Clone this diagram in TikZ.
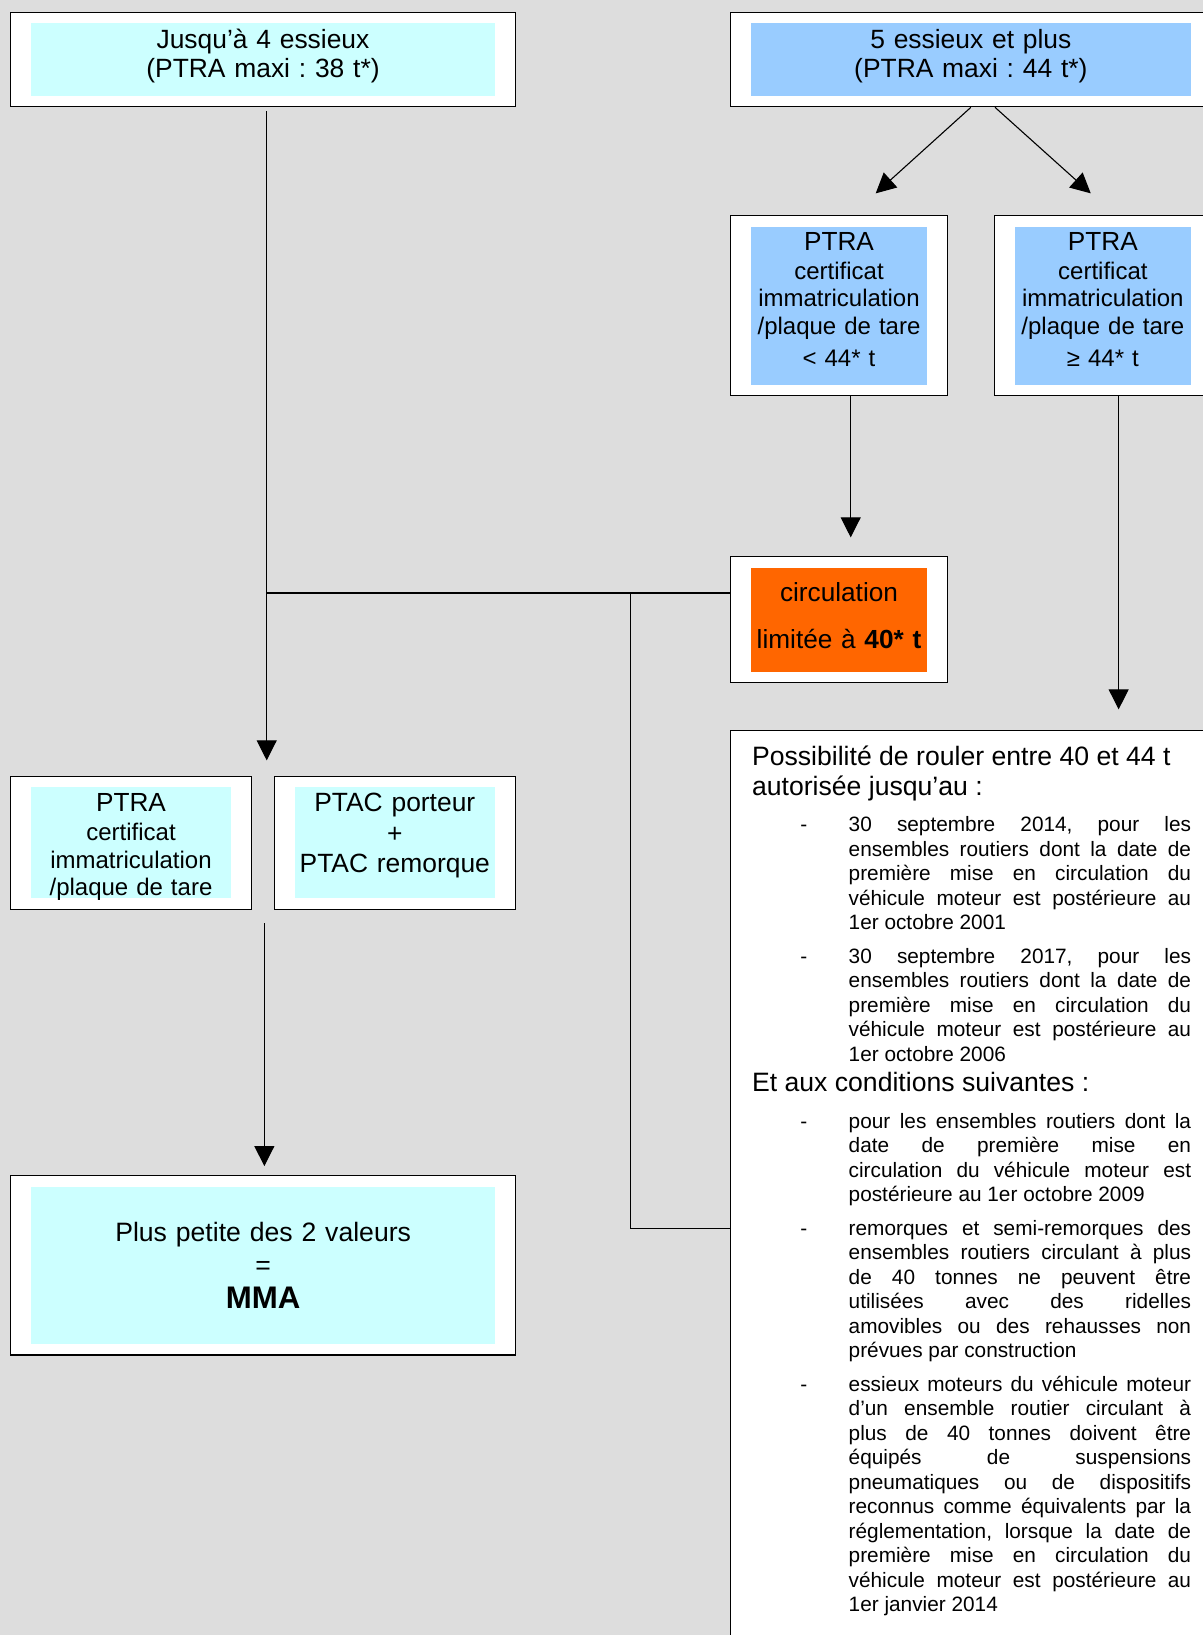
\documentclass[tikz,border=0pt]{standalone}
\usepackage{fontspec}
\setmainfont{Liberation Sans}
\usetikzlibrary{positioning, fit, arrows.meta}

\definecolor{bg_gray}{RGB}{221,221,221}
\definecolor{light_cyan}{RGB}{204,255,255}
\definecolor{light_blue}{RGB}{153,204,255}
\definecolor{warn_orange}{RGB}{255,102,0}

\frenchspacing
\tolerance=9999
\hbadness=10000
\hyphenpenalty=10000
\exhyphenpenalty=10000

% one dashed item of the conditions box
\newcommand{\tiret}[1]{\par{\leftskip=48.3pt\noindent\llap{\makebox[24.15pt][l]{-}}#1\par}}

\tikzset{
    outer_box/.style={rectangle, draw=black, fill=white, line width=0.65pt, inner sep=0pt},
    inner_box/.style={rectangle, inner sep=0pt},
    box_text/.style={anchor=base, inner sep=0pt, align=center},
    cond_text/.style={anchor=base west, inner sep=0pt, align=justify, text width=219.5pt},
    arrow/.style={line width=0.55pt, -{Triangle[width=10pt, length=10pt]}},
    line/.style={line width=0.55pt},
}

\begin{document}
\begin{tikzpicture}[x=0.5pt, y=-0.5pt]
    \useasboundingbox (0,0) rectangle (1203,1635);
    \fill[bg_gray] (0,0) rectangle (1203,1635);

    %%%%%%%%%%%%%%%%%%%%%
    % JUSQU'A 4 ESSIEUX %
    %%%%%%%%%%%%%%%%%%%%%
    \node (essieux4) [outer_box, fit={(10.5,12.3) (515.3,106.7)}] {};
    \node (essieux4_fill) [inner_box, fill=light_cyan, fit={(31.3,22.7) (494.8,95.7)}] {};
    \node (essieux4_text) [box_text, text width=231pt, font=\fontsize{13.2}{14.5}\selectfont] at (263,48.3)
        {Jusqu’à 4 essieux\\(PTRA maxi : 38 t*)};

    %%%%%%%%%%%%%%%%%%%%%
    % 5 ESSIEUX ET PLUS %
    %%%%%%%%%%%%%%%%%%%%%
    \node (essieux5) [outer_box, fit={(730.7,12.3) (1211,106.7)}] {};
    \node (essieux5_fill) [inner_box, fill=light_blue, fit={(751,23.3) (1190.7,95.7)}] {};
    \node (essieux5_text) [box_text, text width=219pt, font=\fontsize{13.2}{14.5}\selectfont] at (970.85,48)
        {5 essieux et plus\\(PTRA maxi : 44 t*)};

    \node (ptraless) [outer_box, fit={(730.7,215.7) (947.3,395.3)}] {};
    \node (ptraless_fill) [inner_box, fill=light_blue, fit={(751,227) (927,384.7)}] {};
    \node (ptraless_text) [box_text, text width=88pt, font=\fontsize{12}{13.8}\selectfont] at (839,250.7)
        {{\fontsize{13.1}{15}\selectfont PTRA}\\[0.35pt]certificat\\immatriculation\\/plaque de tare\\[2.55pt]< 44* t};

    \node (ptramore) [outer_box, fit={(994.3,215.7) (1211,395.3)}] {};
    \node (ptramore_fill) [inner_box, fill=light_blue, fit={(1015,227) (1190.7,384.7)}] {};
    \node (ptramore_text) [box_text, text width=88pt, font=\fontsize{12}{13.8}\selectfont] at (1102.85,250.7)
        {{\fontsize{13.1}{15}\selectfont PTRA}\\[0.35pt]certificat\\immatriculation\\/plaque de tare\\[2.55pt]≥ 44* t};

    \node (circ) [outer_box, fit={(730.7,556.7) (947.3,682.7)}] {};
    \node (circ_fill) [inner_box, fill=warn_orange, fit={(751,568.3) (927,671.7)}] {};
    \node (circ_text) [box_text, text width=88pt, font=\fontsize{13.1}{15}\selectfont] at (839,601.7)
        {circulation\\[8.3pt]limitée à \textbf{40* t}};

    %%%%%%%%%%%%%%
    % CONDITIONS %
    %%%%%%%%%%%%%%
    \node (conditions) [outer_box, fit={(730.7,730.7) (1211,1645)}] {};
    \node (conditions_text) [cond_text, font=\fontsize{10.4}{12.25}\selectfont] at (751.7,765)
        {{\fontsize{13.3}{15}\selectfont Possibilité de rouler entre 40 et 44 t\\autorisée jusqu’au :\par}
        \vspace{6.1pt}
        \tiret{30 septembre 2014, pour les\linebreak ensembles routiers dont la date de\linebreak première mise en circulation du\linebreak véhicule moteur est postérieure au\linebreak 1er octobre 2001}
        \vspace{4.5pt}
        \tiret{30 septembre 2017, pour les\linebreak ensembles routiers dont la date de\linebreak première mise en circulation du\linebreak véhicule moteur est postérieure au\linebreak 1er octobre 2006}
        \vspace{0.2pt}
        {\fontsize{13.3}{15}\selectfont Et aux conditions suivantes :\par}
        \vspace{6.1pt}
        \tiret{pour les ensembles routiers dont la\linebreak date de première mise en\linebreak circulation du véhicule moteur est\linebreak postérieure au 1er octobre 2009}
        \vspace{4.5pt}
        \tiret{remorques et semi-remorques des\linebreak ensembles routiers circulant à plus\linebreak de 40 tonnes ne peuvent être\linebreak utilisées avec des ridelles\linebreak amovibles ou des rehausses non\linebreak prévues par construction}
        \vspace{4.5pt}
        \tiret{essieux moteurs du véhicule moteur\linebreak d’un ensemble routier circulant à\linebreak plus de 40 tonnes doivent être\linebreak équipés de suspensions\linebreak pneumatiques ou de dispositifs\linebreak reconnus comme équivalents par la\linebreak réglementation, lorsque la date de\linebreak première mise en circulation du\linebreak véhicule moteur est postérieure au\linebreak 1er janvier 2014}};

    %%%%%%%%%%%%%%%%
    % PTRA / PTAC  %
    %%%%%%%%%%%%%%%%
    \node (ptra) [outer_box, fit={(10.8,776.7) (251.2,909.7)}] {};
    \node (ptra_fill) [inner_box, fill=light_cyan, fit={(31.1,787.3) (231,898.3)}] {};
    \node (ptra_text) [box_text, text width=100pt, font=\fontsize{12}{13.65}\selectfont] at (131,811.7)
        {{\fontsize{13.1}{15}\selectfont PTRA}\\[0.85pt]certificat\\immatriculation\\/plaque de tare};

    \node (ptac) [outer_box, fit={(274.5,776.7) (515.5,909.7)}] {};
    \node (ptac_fill) [inner_box, fill=light_cyan, fit={(295,787.3) (494.6,898.3)}] {};
    \node (ptac_text) [box_text, text width=100pt, font=\fontsize{13.2}{15.3}\selectfont] at (394.8,811.7)
        {PTAC porteur\\+\\PTAC remorque};

    \node (mma) [outer_box, fit={(10.8,1175.7) (515.5,1355)}] {};
    \node (mma_fill) [inner_box, fill=light_cyan, fit={(31.1,1186.7) (494.6,1344.3)}] {};
    \node (mma_text) [box_text, text width=231pt, font=\fontsize{13.3}{16.5}\selectfont] at (263.15,1241.7)
        {Plus petite des 2 valeurs\\=\\[0.3pt]{\fontsize{15.6}{17}\selectfont\bfseries MMA}};

    %%%%%%%%%%%%%%
    % CONNECTORS %
    %%%%%%%%%%%%%%
    \coordinate (trunk) at ([xshift=1.9pt, yshift=-2pt]essieux4.south);
    \draw[arrow, shorten >=7.85pt] (trunk) -- (trunk |- ptac.north);

    \coordinate (circ_in) at ([yshift=13.35pt]circ.west);
    \draw[line] (circ_in) -- (circ_in -| trunk);
    \coordinate (branch) at ([xshift=-50pt]circ_in);
    \coordinate (cond_in) at ([yshift=-249.15pt]conditions.north west);
    \draw[line] (branch) |- (cond_in);

    \draw[arrow] (essieux5.south) -- ([xshift=18.35pt, yshift=10.85pt]ptraless.north);
    \draw[arrow] ([xshift=12.1pt]essieux5.south) -- ([xshift=-5.95pt, yshift=10.85pt]ptramore.north);

    \coordinate (ptraless_out) at ([xshift=5.85pt]ptraless.south);
    \draw[arrow, shorten >=9.35pt] (ptraless_out) -- (ptraless_out |- circ.north);

    \coordinate (ptramore_out) at ([xshift=8pt]ptramore.south);
    \draw[arrow, shorten >=10.35pt] (ptramore_out) -- (ptramore_out |- conditions.north);

    \coordinate (mma_in) at (ptra.south -| mma.north);
    \coordinate (pair_out) at ([xshift=0.6pt, yshift=-6.5pt]mma_in);
    \draw[arrow, shorten >=4.5pt] (pair_out) -- (pair_out |- mma.north);

\end{tikzpicture}
\end{document}
